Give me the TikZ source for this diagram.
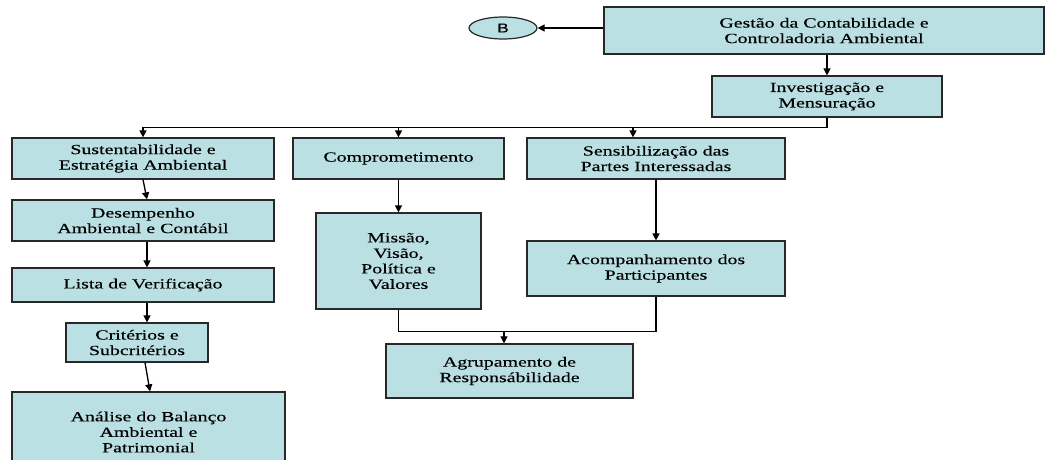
\documentclass[tikz,border=0pt]{standalone}
\usepackage{fontspec}
\setmainfont{Liberation Serif}[FakeStretch=1.42,FakeBold=0.35]
\newfontfamily\labelsans{Liberation Sans}[FakeStretch=1.3,FakeBold=0.3]
\usetikzlibrary{arrows.meta,shapes.geometric}
\definecolor{boxfill}{RGB}{187,224,227}
\definecolor{boxline}{RGB}{40,40,40}
\begin{document}
\begin{tikzpicture}[x=1pt,y=-1pt,
  box/.style={draw=boxline,line width=1.2pt,fill=boxfill,rectangle,inner sep=0pt,
    align=center,font=\fontsize{14}{15.5}\selectfont},
  oval/.style={draw=boxline,line width=1.2pt,fill=boxfill,ellipse,inner sep=0pt,
    font=\labelsans\fontsize{13}{15}\selectfont},
  link/.style={draw=black,line width=1.3pt},
  arr/.style={link,-{Triangle[length=7pt,width=7pt]}}]
\useasboundingbox (0,0) rectangle (1045,459);
\clip (0,0) rectangle (1045,459);
\fill[white] (0,0) rectangle (1045,459);

% top of the chart
\node[box,minimum width=440,minimum height=47] (gestao) at (824,30.5)
  {Gestão da Contabilidade e\\Controladoria Ambiental};
\node[box,minimum width=230,minimum height=41] (invest) at (827,96.5)
  {Investigação e\\Mensuração};
\node[oval,minimum width=68,minimum height=22] (b) at (503,28) {B};

% second row
\node[box,minimum width=262,minimum height=41] (sust) at (143,158.5)
  {Sustentabilidade e\\Estratégia Ambiental};
\node[box,minimum width=211,minimum height=41] (compr) at (398.5,158.5)
  {Comprometimento};
\node[box,minimum width=258,minimum height=41] (sens) at (656,158.5)
  {Sensibilização das\\Partes Interessadas};

% left column
\node[box,minimum width=262,minimum height=41] (desemp) at (143,220.5)
  {Desempenho\\Ambiental e Contábil};
\node[box,minimum width=262,minimum height=34] (lista) at (143,285)
  {Lista de Verificação};
\node[box,minimum width=142,minimum height=39] (crit) at (137,342.5)
  {Critérios e\\Subcritérios};
\node[box,minimum width=273,minimum height=80] (analise) at (148.5,432)
  {Análise do Balanço\\Ambiental e\\Patrimonial};

% middle and right columns
\node[box,minimum width=165,minimum height=96] (missao) at (398.5,261)
  {Missão,\\Visão,\\Política e\\Valores};
\node[box,minimum width=258,minimum height=55] (acomp) at (656,268.5)
  {Acompanhamento dos\\Participantes};
\node[box,minimum width=247,minimum height=54] (agrup) at (509.5,371)
  {Agrupamento de\\Responsábilidade};

% connectors
\draw[arr] (gestao.west |- b.east) -- (b.east);
\draw[arr] (gestao.south -| invest.north) -- (invest.north);
\draw[arr] (invest.south) -- ++(0,10) coordinate (bus) -| (sust.north);
\draw[arr] (bus -| compr.north) -- (compr.north);
\draw[arr] ([xshift=-23pt]sens.north |- bus) -- ([xshift=-23pt]sens.north);

\draw[arr] (sust.south) -- ([xshift=4pt]desemp.north);
\draw[arr] ([xshift=4pt]desemp.south) -- ([xshift=4pt]lista.north);
\draw[arr] ([xshift=4pt]lista.south) -- ([xshift=10pt]crit.north);
\draw[arr] ([xshift=8pt]crit.south) -- ([xshift=1.5pt]analise.north);

\draw[arr] (compr.south) -- (missao.north);
\draw[arr] (sens.south) -- (acomp.north);

\draw[link] (missao.south) -- ++(0,22) coordinate (join) -| (acomp.south);
\draw[arr] ([xshift=-5.5pt]agrup.north |- join) -- ([xshift=-5.5pt]agrup.north);
\end{tikzpicture}
\end{document}
